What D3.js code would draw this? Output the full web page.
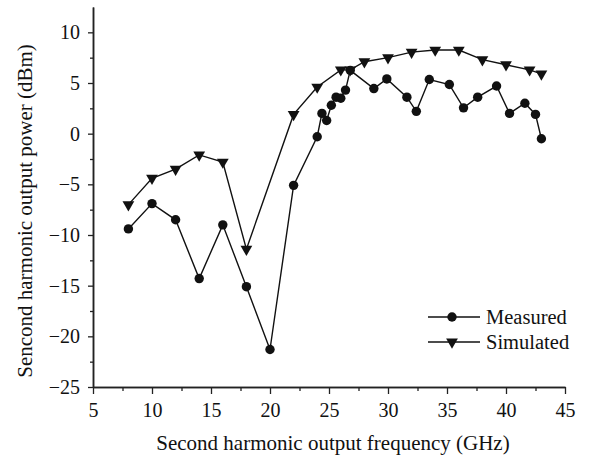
<!DOCTYPE html>
<html>
<head>
<meta charset="utf-8">
<script src="https://cdn.jsdelivr.net/npm/d3@7"></script>
<style>
  body { margin: 0; background: #fff; }
  svg { display: block; }
  text { font-family: "Liberation Serif", "Times New Roman", serif; fill: #111; }
</style>
</head>
<body>
<svg id="chart" width="595" height="460"></svg>
<script>
// measured second harmonic power vs frequency
const measuredFreq = [8, 10, 12, 14, 16, 18, 20, 22, 24, 24.4, 24.8, 25.2, 25.6, 26, 26.4, 26.8,
  28.8, 29.9, 31.6, 32.4, 33.5, 35.2, 36.4, 37.6, 39.2, 40.3, 41.6, 42.5, 43];
const measuredPower = [-9.4, -6.9, -8.5, -14.3, -9.0, -15.1, -21.3, -5.1, -0.3, 2.0, 1.3, 2.8, 3.6, 3.5, 4.3, 6.25,
  4.45, 5.4, 3.6, 2.2, 5.35, 4.85, 2.55, 3.6, 4.7, 2.0, 3.0, 1.9, -0.5];

// simulated
const simulatedFreq = [8, 10, 12, 14, 16, 18, 22, 24, 26, 26.8, 28, 30, 32, 34, 36, 38, 40, 42, 43];
const simulatedPower = [-7.0, -4.4, -3.5, -2.1, -2.8, -11.4, 1.9, 4.6, 6.3, 6.3, 7.1, 7.5, 8.05, 8.25, 8.25, 7.3, 6.8, 6.3, 5.9];

const xTicks = [5, 10, 15, 20, 25, 30, 35, 40, 45];
const yTicks = [-25, -20, -15, -10, -5, 0, 5, 10];
const legendLabels = ["Measured", "Simulated"];

const serif = '"Liberation Serif", "Times New Roman", serif';
const svg = d3.select("#chart");

const x = d3.scaleLinear().domain([5, 45]).range([93, 565]);
const y = d3.scaleLinear().domain([-25, 12.5]).range([387, 7]);

// minor ticks sit halfway between the labelled ones
const xMinor = d3.range(7.5, 45, 5);
const yMinor = d3.range(-22.5, 12.5, 5);

let gx = svg.append("g")
  .attr("transform", "translate(0," + y(-25) + ")");
gx.append("g")
  .call(d3.axisBottom(x).tickValues(xMinor).tickSize(4).tickSizeOuter(0).tickFormat(""));
gx.append("g")
  .call(d3.axisBottom(x).tickValues(xTicks).tickSize(7).tickSizeOuter(0).tickPadding(9));

let gy = svg.append("g")
  .attr("transform", "translate(" + x(5) + ",0)");
gy.append("g")
  .call(d3.axisLeft(y).tickValues(yMinor).tickSize(3).tickSizeOuter(0).tickFormat(""));
gy.append("g")
  .call(d3.axisLeft(y).tickValues(yTicks).tickSize(5).tickSizeOuter(0).tickPadding(8)
    .tickFormat(d => d < 0 ? "\u2212" + Math.abs(d) : d));

svg.selectAll(".domain").attr("stroke", "#222").attr("stroke-width", 1.5);
svg.selectAll(".tick line").attr("stroke", "#222").attr("stroke-width", 1.3);
svg.selectAll(".tick text")
  .style("font-family", serif)
  .style("font-size", "20px")
  .attr("fill", "#111");

// axis titles
svg.append("text")
  .attr("x", 333).attr("y", 450)
  .attr("text-anchor", "middle")
  .style("font-family", serif)
  .style("font-size", "21px")
  .text("Second harmonic output frequency (GHz)");

svg.append("text")
  .attr("transform", "translate(32,211) rotate(-90)")
  .attr("text-anchor", "middle")
  .style("font-family", serif)
  .style("font-size", "21px")
  .text("Sencond harmonic output power (dBm)");

const line = d3.line().x(d => x(d[0])).y(d => y(d[1]));
const measured = d3.zip(measuredFreq, measuredPower);
const simulated = d3.zip(simulatedFreq, simulatedPower);

const tri = d3.symbol().type(d3.symbolTriangle).size(60);

function drawSeries(data, kind) {
  svg.append("path")
    .datum(data)
    .attr("fill", "none")
    .attr("stroke", "#111")
    .attr("stroke-width", 1.4)
    .attr("d", line);
  let g = svg.append("g");
  if (kind === "circle") {
    g.selectAll("circle").data(data).enter().append("circle")
      .attr("cx", d => x(d[0])).attr("cy", d => y(d[1]))
      .attr("r", 4.7).attr("fill", "#111");
  } else {
    g.selectAll("path").data(data).enter().append("path")
      .attr("d", tri)
      .attr("transform", d => "translate(" + x(d[0]) + "," + y(d[1]) + ") rotate(180)")
      .attr("fill", "#111");
  }
}

drawSeries(simulated, "tri");
drawSeries(measured, "circle");

// legend
let lg = svg.append("g").selectAll("g")
  .data(legendLabels)
  .enter().append("g")
  .attr("transform", (d, i) => "translate(0," + (317 + i * 25) + ")");
lg.append("line")
  .attr("x1", 428).attr("x2", 480)
  .attr("stroke", "#111").attr("stroke-width", 1.4);
lg.filter((d, i) => i === 0).append("circle")
  .attr("cx", 452).attr("r", 4.7).attr("fill", "#111");
lg.filter((d, i) => i === 1).append("path")
  .attr("d", tri)
  .attr("transform", "translate(452,0) rotate(180)")
  .attr("fill", "#111");
lg.append("text")
  .attr("x", 486).attr("y", 6.5)
  .style("font-family", serif)
  .style("font-size", "20.5px")
  .text(d => d);
</script>
</body>
</html>
